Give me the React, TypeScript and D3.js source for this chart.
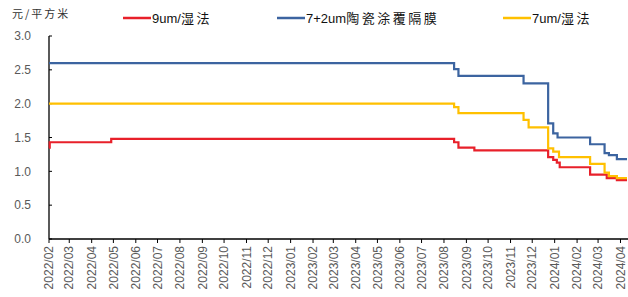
import * as d3 from "d3";

const parse = d3.timeParse("%Y-%m-%d");

// 9um/湿法
const redDates = ["2022-02-01", "2022-02-02", "2022-04-28", "2023-08-15", "2023-08-21", "2023-09-12", "2023-12-23", "2023-12-30", "2024-01-04", "2024-01-08", "2024-02-19", "2024-03-13", "2024-03-27", "2024-04-10"];
const redValues = [1.35, 1.43, 1.48, 1.43, 1.35, 1.31, 1.21, 1.17, 1.13, 1.06, 0.95, 0.9, 0.87, 0.87];

// 7+2um陶瓷涂覆隔膜
const blueDates = ["2022-02-01", "2023-08-15", "2023-08-21", "2023-11-19", "2023-12-23", "2023-12-30", "2024-01-05", "2024-02-19", "2024-03-10", "2024-03-16", "2024-03-27", "2024-04-10"];
const blueValues = [2.6, 2.51, 2.41, 2.3, 1.71, 1.56, 1.5, 1.4, 1.27, 1.24, 1.18, 1.18];

// 7um/湿法
const yellowDates = ["2022-02-01", "2023-08-15", "2023-08-21", "2023-11-19", "2023-11-26", "2023-12-23", "2023-12-30", "2024-01-07", "2024-02-19", "2024-03-10", "2024-03-16", "2024-03-27", "2024-04-10"];
const yellowValues = [2.0, 1.95, 1.86, 1.76, 1.65, 1.34, 1.29, 1.21, 1.11, 0.98, 0.93, 0.9, 0.9];

const yTicks = [0, 0.5, 1, 1.5, 2, 2.5, 3];

const series = [
  { name: "9um/", cjk: "湿法", color: "#E8202A", dates: redDates, values: redValues, lx: 123 },
  { name: "7+2um", cjk: "陶瓷涂覆隔膜", color: "#3C64A0", dates: blueDates, values: blueValues, lx: 277 },
  { name: "7um/", cjk: "湿法", color: "#FFC000", dates: yellowDates, values: yellowValues, lx: 503 },
];

export default function App() {
  const width = 628;
  const height = 297;
  const margin = { top: 36, right: 1, bottom: 58, left: 49 };

  const x = d3.scaleTime()
    .domain([parse("2022-02-01")!, parse("2024-04-10")!])
    .range([margin.left, width - margin.right]);

  const y = d3.scaleLinear()
    .domain([0, 3])
    .range([height - margin.bottom, margin.top]);

  const line = d3.line<{ date: Date; value: number }>()
    .x(d => x(d.date))
    .y(d => y(d.value))
    .curve(d3.curveStepAfter);

  const months = d3.timeMonth.range(parse("2022-02-01")!, parse("2024-04-02")!);
  const fmtMonth = d3.timeFormat("%Y/%m");
  const y0 = y(0);

  return (
    <div style={{ position: "absolute", left: 0, top: 0 }}>
      <svg width={width} height={height} style={{ display: "block", background: "#fff" }}>
        <text x={12} y={18} fontSize={11} fill="#333" letterSpacing={2}
          fontFamily="'Noto Sans CJK SC', sans-serif">元/平方米</text>

        {series.map(s => (
          <g key={s.name + s.cjk}>
            <line x1={s.lx} x2={s.lx + 28} y1={18} y2={18} stroke={s.color} strokeWidth={2.5} />
            <text x={s.lx + 29} y={23} fontSize={13} fill="#111" fontFamily="'Liberation Sans', Arial, sans-serif">
              {s.name}
              <tspan fontFamily="'Noto Sans CJK SC', sans-serif" letterSpacing={2.5}>{s.cjk}</tspan>
            </text>
          </g>
        ))}

        {yTicks.map(t => (
          <g key={t} transform={`translate(0,${y(t)})`}>
            <line x1={margin.left} x2={margin.left + 3} stroke="#000" />
            <text x={31} dy="0.35em" textAnchor="end" fontSize={12} fill="#595959"
              fontFamily="'Liberation Sans', Arial, sans-serif">{d3.format(".1f")(t)}</text>
          </g>
        ))}
        <line x1={margin.left} x2={margin.left} y1={margin.top} y2={y0} stroke="#000" strokeWidth={1.3} />

        {months.map(m => (
          <g key={m.toISOString()} transform={`translate(${x(m)},0)`}>
            <line y1={y0} y2={y0 + 4} stroke="#000" />
            <text transform={`translate(0,${y0 + 7}) rotate(-90)`} textAnchor="end" dy="0.35em"
              fontSize={12} fill="#595959" fontFamily="'Liberation Sans', Arial, sans-serif">{fmtMonth(m)}</text>
          </g>
        ))}
        <line x1={margin.left} x2={width} y1={y0} y2={y0} stroke="#000" strokeWidth={1.3} />

        {series.map(s => (
          <path key={s.color} fill="none" stroke={s.color} strokeWidth={2.2}
            d={line(s.dates.map((d, i) => ({ date: parse(d)!, value: s.values[i] }))) || ""} />
        ))}
      </svg>
    </div>
  );
}
